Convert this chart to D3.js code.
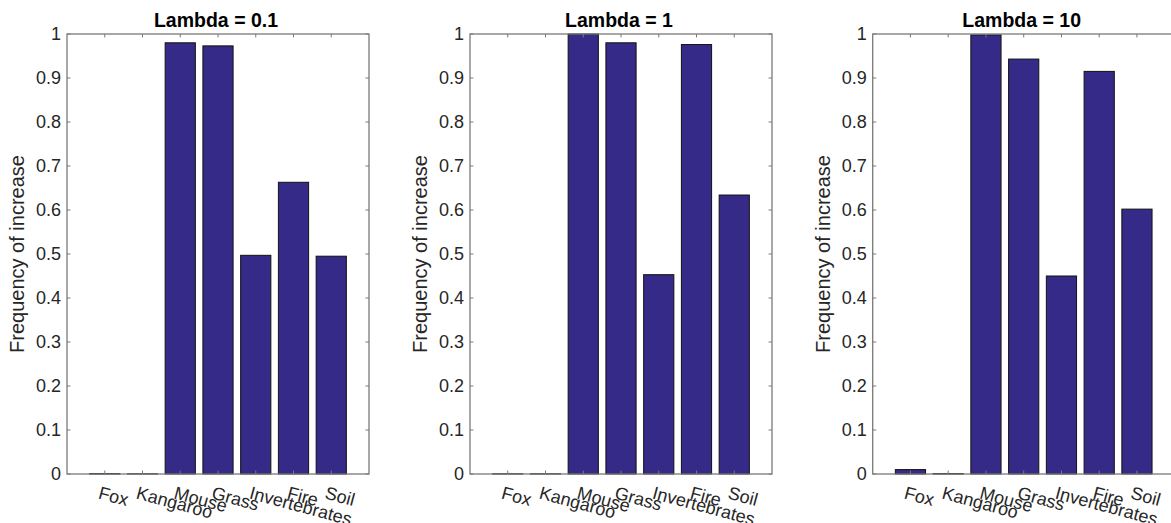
<!DOCTYPE html>
<html>
<head>
<meta charset="utf-8">
<script src="https://cdn.jsdelivr.net/npm/d3@7"></script>
<style>
html,body{margin:0;padding:0;background:#fff;overflow:hidden;}
text{font-family:"Liberation Sans",Arial,Helvetica,sans-serif;}
</style>
</head>
<body>
<svg id="chart" width="1171" height="523"></svg>
<script>
const categories = ["Fox","Kangaroo","Mouse","Grass","Invertebrates","Fire","Soil"];
const titles = ["Lambda = 0.1","Lambda = 1","Lambda = 10"];
const lambda01 = [0.001, 0.0005, 0.980, 0.973, 0.497, 0.663, 0.495];
const lambda1  = [0.0005, 0.0005, 1.000, 0.980, 0.453, 0.976, 0.634];
const lambda10 = [0.010, 0.001, 0.998, 0.943, 0.450, 0.915, 0.602];
const yTicks = [0,0.1,0.2,0.3,0.4,0.5,0.6,0.7,0.8,0.9,1];
const yLabel = "Frequency of increase";
const seriesList = [lambda01, lambda1, lambda10];

const svg = d3.select("#chart");
const panelLeft = [67, 470, 872.7];
const pw = 302, plotTop = 34, ph = 440;
const axisColor = "#7a7a7a", textColor = "#262626", barColor = "#352A87";

seriesList.forEach((vals, i) => {
  const g = svg.append("g").attr("transform", `translate(${panelLeft[i]},${plotTop})`);
  const x = d3.scaleLinear().domain([0, 8]).range([0, pw]);
  const y = d3.scaleLinear().domain([0, 1]).range([ph, 0]);
  const bw = x(0.8) - x(0);

  g.selectAll("rect.bar").data(vals).enter().append("rect")
    .attr("class","bar")
    .attr("x", (d,j) => x(j+1) - bw/2)
    .attr("width", bw)
    .attr("y", d => y(d))
    .attr("height", d => y(0) - y(d))
    .attr("fill", barColor)
    .attr("stroke", "#111")
    .attr("stroke-width", 1);

  g.append("rect").attr("x",0).attr("y",0).attr("width",pw).attr("height",ph)
    .attr("fill","none").attr("stroke",axisColor).attr("stroke-width",1.3);

  yTicks.forEach(t => {
    g.append("line").attr("x1",0).attr("x2",3.5).attr("y1",y(t)).attr("y2",y(t))
      .attr("stroke",axisColor).attr("stroke-width",1);
    g.append("line").attr("x1",pw).attr("x2",pw-3.5).attr("y1",y(t)).attr("y2",y(t))
      .attr("stroke",axisColor).attr("stroke-width",1);
    g.append("text").attr("x",-6).attr("y",y(t)).attr("dy","0.35em")
      .attr("text-anchor","end").attr("font-size","18px").attr("fill",textColor)
      .text(d3.format("")(t));
  });

  categories.forEach((c,j) => {
    const xx = x(j+1);
    g.append("line").attr("x1",xx).attr("x2",xx).attr("y1",ph).attr("y2",ph-3.5)
      .attr("stroke",axisColor).attr("stroke-width",1);
    g.append("line").attr("x1",xx).attr("x2",xx).attr("y1",0).attr("y2",3.5)
      .attr("stroke",axisColor).attr("stroke-width",1);
    g.append("text")
      .attr("transform",`translate(${xx-4},${ph+12}) rotate(15)`)
      .attr("text-anchor","start").attr("dominant-baseline","hanging")
      .attr("font-size","18px").attr("fill",textColor)
      .text(c);
  });

  g.append("text").attr("x",pw/2 - 2).attr("y",-7)
    .attr("text-anchor","middle").attr("font-size","19.5px").attr("font-weight","bold")
    .attr("fill","#000").text(titles[i]);

  g.append("text")
    .attr("transform",`translate(-43,${ph/2}) rotate(-90)`)
    .attr("text-anchor","middle").attr("font-size","20px").attr("fill",textColor)
    .text(yLabel);
});
</script>
</body>
</html>
